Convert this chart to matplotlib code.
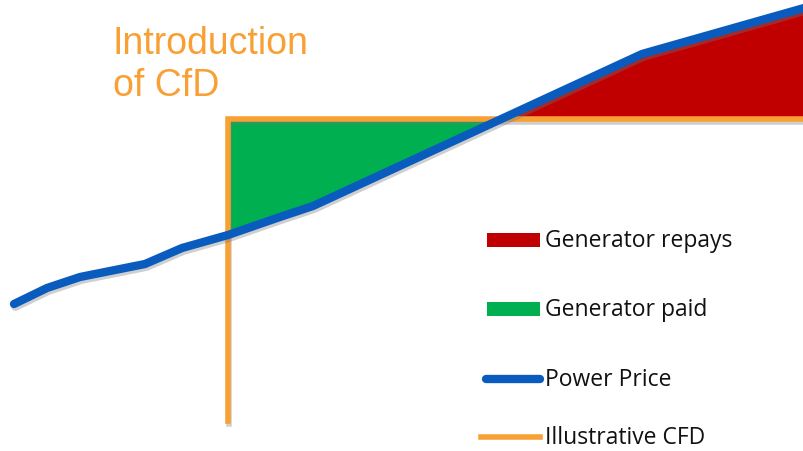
import numpy as np
import matplotlib
matplotlib.use('Agg')
import matplotlib.pyplot as plt
import matplotlib.patheffects as pe

time = [14, 47, 80, 145, 182, 228, 277, 313, 642, 804]
price = [147, 163, 174, 187, 203, 216, 233, 245, 397, 443]

# Illustrative CfD strike price, introduced at t = 228
cfd_start = 228
cfd_price = 332
cfd_floor = 30
time_end = 804

legend_labels = ['Generator repays', 'Generator paid', 'Power Price', 'Illustrative CFD']

red = '#C00000'
green = '#00B050'
blue = '#0A5BBE'
orange = '#F9A035'

fig = plt.figure(figsize=(8.04, 4.52), dpi=100)
ax = fig.add_axes([0, 0, 1, 1])
ax.set_xlim(0, 804)
ax.set_ylim(0, 452)
ax.axis('off')

# fill the gap between price and strike after the CfD starts
t = np.linspace(cfd_start, time_end, 600)
p = np.interp(t, time, price)
strike = np.full_like(t, cfd_price)
ax.fill_between(t, p, strike, where=p <= strike, interpolate=True, color=green, lw=0)
ax.fill_between(t, p, strike, where=p >= strike, interpolate=True, color=red, lw=0)

shadow = [pe.SimpleLineShadow(offset=(1, -2), shadow_color='#777777', alpha=0.35), pe.Normal()]

# CfD line
ax.plot([cfd_start, cfd_start, time_end], [cfd_floor, cfd_price, cfd_price],
        color=orange, lw=4, solid_joinstyle='miter', path_effects=shadow, zorder=3)

# power price line
ax.plot(time, price, color=blue, lw=6, solid_capstyle='round', path_effects=shadow, zorder=4)

ax.text(113, 426, 'Introduction\nof CfD', color=orange, fontsize=27,
        family='Liberation Sans', va='top', ha='left', linespacing=1.22)

# legend drawn by hand to match spacing
rows = [211, 142, 72, 14]
for i, lab in enumerate(legend_labels):
    y = rows[i]
    if i == 0:
        ax.add_patch(plt.Rectangle((487, y - 7), 53, 14, color=red, lw=0))
    elif i == 1:
        ax.add_patch(plt.Rectangle((487, y - 7), 53, 14, color=green, lw=0))
    elif i == 2:
        ax.plot([486, 540], [y, y], color=blue, lw=6, solid_capstyle='round')
    else:
        ax.plot([481, 540], [y, y], color=orange, lw=4)
    ax.text(545, y, lab, fontsize=16.5, family='Open Sans', va='center', ha='left', color='#111111')

plt.savefig('out.png', dpi=100)
